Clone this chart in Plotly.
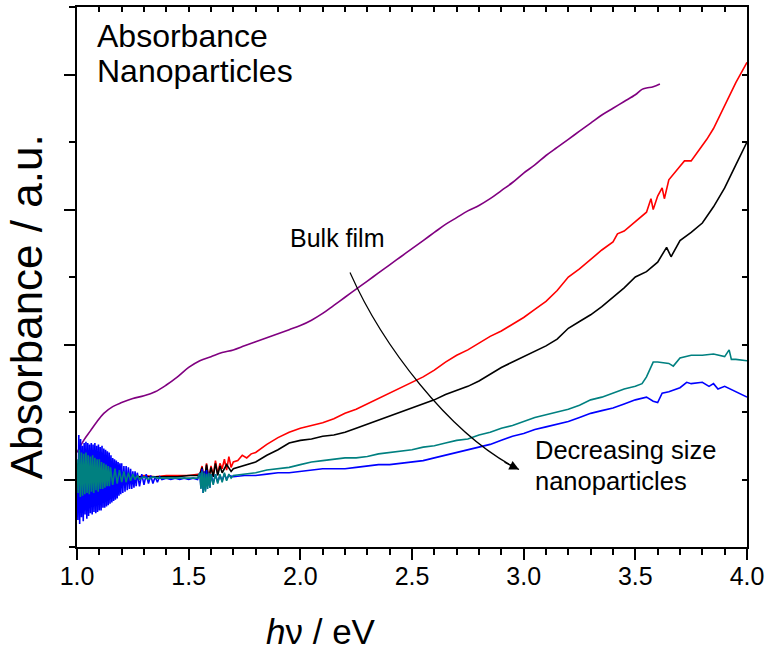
import plotly.graph_objects as go

# ---------------- data ----------------
X_TICKS = [1.0, 1.5, 2.0, 2.5, 3.0, 3.5, 4.0]
X_TICK_LABELS = ["1.0", "1.5", "2.0", "2.5", "3.0", "3.5", "4.0"]

BULK_FILM = [  # purple
    (1.00, 0.20), (1.03, 0.29), (1.06, 0.36), (1.09, 0.43), (1.12, 0.49), (1.16, 0.54),
    (1.20, 0.57), (1.25, 0.60), (1.30, 0.62), (1.35, 0.65), (1.40, 0.70), (1.45, 0.76),
    (1.50, 0.83), (1.55, 0.88), (1.60, 0.91), (1.65, 0.94), (1.70, 0.96), (1.75, 0.99),
    (1.80, 1.02), (1.85, 1.05), (1.90, 1.08), (1.95, 1.11), (2.00, 1.14), (2.05, 1.18),
    (2.10, 1.23), (2.15, 1.29), (2.20, 1.35), (2.25, 1.41), (2.30, 1.47), (2.35, 1.53),
    (2.40, 1.59), (2.45, 1.65), (2.50, 1.71), (2.55, 1.77), (2.60, 1.83), (2.65, 1.89),
    (2.70, 1.94), (2.75, 1.99), (2.80, 2.03), (2.85, 2.08), (2.90, 2.14), (2.95, 2.20),
    (3.00, 2.27), (3.05, 2.33), (3.10, 2.40), (3.15, 2.46), (3.20, 2.52), (3.25, 2.58),
    (3.30, 2.64), (3.35, 2.70), (3.40, 2.75), (3.45, 2.80), (3.50, 2.85), (3.53, 2.89),
    (3.55, 2.90), (3.58, 2.91), (3.61, 2.93),
]

SAMPLE_RED = [
    (1.00, 0.12), (1.005, -0.04), (1.01, 0.08), (1.015, -0.02), (1.02, 0.05), (1.03, 0.00),
    (1.04, 0.04), (1.05, -0.01), (1.06, 0.03), (1.08, 0.00), (1.10, 0.03), (1.12, 0.00),
    (1.14, 0.03), (1.16, 0.01), (1.18, 0.03), (1.20, 0.01), (1.22, 0.04), (1.24, 0.01),
    (1.26, 0.03), (1.28, 0.02), (1.30, 0.03), (1.35, 0.02), (1.40, 0.03), (1.45, 0.03),
    (1.50, 0.03), (1.55, 0.04), (1.56, 0.10), (1.57, -0.02), (1.58, 0.12), (1.59, 0.00),
    (1.60, 0.10), (1.61, 0.03), (1.62, 0.14), (1.63, 0.04), (1.64, 0.12), (1.65, 0.08),
    (1.66, 0.15), (1.67, 0.07), (1.68, 0.17), (1.69, 0.09), (1.70, 0.13), (1.72, 0.14),
    (1.74, 0.18), (1.76, 0.16), (1.78, 0.19), (1.80, 0.20), (1.85, 0.26), (1.90, 0.31),
    (1.95, 0.35), (2.00, 0.38), (2.05, 0.40), (2.10, 0.42), (2.15, 0.45), (2.20, 0.49),
    (2.25, 0.52), (2.30, 0.56), (2.35, 0.60), (2.40, 0.64), (2.45, 0.68), (2.50, 0.72),
    (2.55, 0.76), (2.60, 0.81), (2.65, 0.87), (2.70, 0.92), (2.75, 0.96), (2.80, 1.01),
    (2.85, 1.06), (2.90, 1.10), (2.95, 1.15), (3.00, 1.20), (3.05, 1.26), (3.10, 1.32),
    (3.15, 1.40), (3.20, 1.50), (3.25, 1.56), (3.30, 1.63), (3.35, 1.70), (3.40, 1.76),
    (3.42, 1.82), (3.45, 1.84), (3.50, 1.91), (3.55, 1.98), (3.57, 2.08), (3.58, 2.00),
    (3.60, 2.10), (3.62, 2.16), (3.63, 2.08), (3.65, 2.22), (3.70, 2.32), (3.72, 2.36),
    (3.75, 2.36), (3.80, 2.47), (3.82, 2.52), (3.85, 2.60), (3.90, 2.77), (3.95, 2.94),
    (4.00, 3.09),
]

SAMPLE_BLACK = [
    (1.00, 0.08), (1.005, -0.05), (1.01, 0.06), (1.015, -0.03), (1.02, 0.04), (1.03, 0.00),
    (1.04, 0.03), (1.06, 0.00), (1.08, 0.02), (1.10, 0.01), (1.12, 0.03), (1.14, 0.00),
    (1.16, 0.02), (1.18, 0.01), (1.20, 0.03), (1.22, 0.01), (1.24, 0.03), (1.26, 0.02),
    (1.28, 0.02), (1.30, 0.02), (1.35, 0.02), (1.40, 0.02), (1.45, 0.02), (1.50, 0.03),
    (1.55, 0.03), (1.56, 0.09), (1.57, -0.01), (1.58, 0.11), (1.59, 0.01), (1.60, 0.09),
    (1.61, 0.02), (1.62, 0.12), (1.63, 0.03), (1.64, 0.10), (1.65, 0.05), (1.67, 0.11),
    (1.69, 0.06), (1.70, 0.08), (1.72, 0.09), (1.75, 0.10), (1.80, 0.13), (1.85, 0.18),
    (1.90, 0.22), (1.95, 0.27), (2.00, 0.29), (2.05, 0.30), (2.10, 0.32), (2.15, 0.33),
    (2.20, 0.35), (2.25, 0.38), (2.30, 0.41), (2.35, 0.44), (2.40, 0.47), (2.45, 0.50),
    (2.50, 0.53), (2.55, 0.56), (2.60, 0.59), (2.65, 0.63), (2.70, 0.66), (2.75, 0.69),
    (2.80, 0.73), (2.85, 0.78), (2.90, 0.83), (2.95, 0.87), (3.00, 0.91), (3.05, 0.95),
    (3.10, 0.99), (3.15, 1.04), (3.20, 1.12), (3.25, 1.17), (3.30, 1.22), (3.35, 1.28),
    (3.40, 1.35), (3.45, 1.42), (3.50, 1.50), (3.55, 1.54), (3.60, 1.61), (3.64, 1.72),
    (3.66, 1.65), (3.70, 1.77), (3.75, 1.83), (3.80, 1.90), (3.85, 2.02), (3.90, 2.16),
    (3.95, 2.33), (4.00, 2.50),
]

SAMPLE_BLUE = [
    (1.000, 0.05), (1.004, -0.30), (1.008, 0.33), (1.012, -0.33), (1.016, 0.30), (1.020, -0.28),
    (1.024, 0.25), (1.028, -0.31), (1.032, 0.27), (1.036, -0.26), (1.040, 0.28), (1.044, -0.29),
    (1.048, 0.27), (1.052, -0.27), (1.056, 0.26), (1.060, -0.25), (1.064, 0.27), (1.068, -0.26),
    (1.072, 0.26), (1.076, -0.24), (1.080, 0.27), (1.084, -0.25), (1.088, 0.25), (1.092, -0.24),
    (1.096, 0.26), (1.100, -0.23), (1.104, 0.24), (1.108, -0.23), (1.112, 0.25), (1.116, -0.21),
    (1.120, 0.23), (1.124, -0.21), (1.128, 0.22), (1.132, -0.20), (1.136, 0.21), (1.140, -0.19),
    (1.144, 0.20), (1.148, -0.18), (1.152, 0.18), (1.156, -0.17), (1.160, 0.16), (1.164, -0.16),
    (1.168, 0.15), (1.172, -0.15), (1.176, 0.14), (1.180, -0.14), (1.184, 0.13), (1.188, -0.12),
    (1.192, 0.12), (1.196, -0.11), (1.200, 0.12), (1.205, -0.10), (1.210, 0.10), (1.215, -0.09),
    (1.220, 0.10), (1.225, -0.08), (1.230, 0.09), (1.235, -0.07), (1.240, 0.08), (1.245, -0.07),
    (1.250, 0.06), (1.255, -0.06), (1.260, 0.06), (1.265, -0.05), (1.270, 0.05), (1.280, -0.05),
    (1.290, 0.04), (1.300, -0.04), (1.310, 0.04), (1.320, -0.03), (1.330, 0.03), (1.340, -0.03),
    (1.350, 0.02), (1.360, -0.02), (1.370, 0.02), (1.380, 0.00), (1.400, 0.01), (1.420, 0.00),
    (1.440, 0.01), (1.460, 0.00), (1.480, 0.01), (1.500, 0.00), (1.520, 0.01), (1.540, 0.00),
    (1.550, 0.05), (1.555, -0.06), (1.560, 0.08), (1.565, -0.10), (1.570, 0.06), (1.575, -0.08),
    (1.580, 0.07), (1.585, -0.05), (1.590, 0.05), (1.595, -0.06), (1.600, 0.04), (1.610, -0.03),
    (1.620, 0.04), (1.630, -0.02), (1.640, 0.03), (1.650, -0.01), (1.660, 0.04), (1.670, 0.00),
    (1.680, 0.03), (1.70, 0.02), (1.75, 0.03),
    (1.80, 0.03), (1.85, 0.04), (1.90, 0.05), (1.95, 0.05), (2.00, 0.06), (2.05, 0.07),
    (2.10, 0.08), (2.15, 0.08), (2.20, 0.08), (2.25, 0.09), (2.30, 0.10), (2.35, 0.11),
    (2.40, 0.11), (2.45, 0.12), (2.50, 0.13), (2.55, 0.14), (2.60, 0.16), (2.65, 0.18),
    (2.70, 0.20), (2.75, 0.22), (2.80, 0.24), (2.85, 0.26), (2.90, 0.29), (2.95, 0.32),
    (3.00, 0.34), (3.05, 0.37), (3.10, 0.39), (3.15, 0.41), (3.20, 0.43), (3.25, 0.46),
    (3.30, 0.49), (3.35, 0.51), (3.40, 0.53), (3.45, 0.56), (3.50, 0.59), (3.55, 0.61),
    (3.58, 0.58), (3.60, 0.57), (3.62, 0.64), (3.65, 0.65), (3.70, 0.68), (3.73, 0.72),
    (3.75, 0.71), (3.80, 0.72), (3.83, 0.69), (3.85, 0.71), (3.87, 0.67), (3.90, 0.69),
    (3.95, 0.65), (4.00, 0.61),
]

SAMPLE_TEAL = [
    (1.000, 0.15), (1.005, -0.10), (1.010, 0.22), (1.015, -0.13), (1.020, 0.20), (1.025, -0.12),
    (1.030, 0.19), (1.035, -0.11), (1.040, 0.20), (1.045, -0.10), (1.050, 0.18), (1.055, -0.11),
    (1.060, 0.17), (1.065, -0.09), (1.070, 0.18), (1.075, -0.10), (1.080, 0.16), (1.085, -0.08),
    (1.090, 0.15), (1.095, -0.09), (1.100, 0.15), (1.105, -0.07), (1.110, 0.13), (1.115, -0.07),
    (1.120, 0.12), (1.125, -0.06), (1.130, 0.11), (1.135, -0.05), (1.140, 0.10), (1.145, -0.05),
    (1.150, 0.09), (1.160, -0.04), (1.170, 0.08), (1.180, -0.03), (1.190, 0.07), (1.200, -0.02),
    (1.210, 0.06), (1.220, -0.02), (1.230, 0.05), (1.240, -0.01), (1.250, 0.04), (1.260, 0.00),
    (1.270, 0.03), (1.280, 0.00), (1.300, 0.02), (1.320, 0.00), (1.340, 0.02), (1.360, 0.01),
    (1.400, 0.01), (1.450, 0.01), (1.500, 0.01), (1.540, 0.01), (1.550, 0.05), (1.555, -0.07),
    (1.560, 0.06), (1.565, -0.10), (1.570, 0.05), (1.575, -0.09), (1.580, 0.04), (1.585, -0.07),
    (1.590, 0.05), (1.595, -0.06), (1.600, 0.04), (1.610, -0.04), (1.620, 0.04), (1.630, -0.03),
    (1.640, 0.04), (1.650, -0.02), (1.660, 0.05), (1.670, -0.01), (1.680, 0.04), (1.690, 0.01),
    (1.70, 0.03), (1.75, 0.04), (1.80, 0.05), (1.85, 0.07),
    (1.90, 0.08), (1.95, 0.09), (2.00, 0.11), (2.05, 0.13), (2.10, 0.14), (2.15, 0.15),
    (2.20, 0.16), (2.25, 0.16), (2.30, 0.17), (2.35, 0.19), (2.40, 0.20), (2.45, 0.21),
    (2.50, 0.22), (2.55, 0.24), (2.60, 0.25), (2.65, 0.27), (2.70, 0.29), (2.75, 0.30),
    (2.80, 0.33), (2.85, 0.35), (2.90, 0.38), (2.95, 0.40), (3.00, 0.43), (3.05, 0.46),
    (3.10, 0.48), (3.15, 0.50), (3.20, 0.52), (3.25, 0.55), (3.30, 0.59), (3.35, 0.61),
    (3.40, 0.64), (3.45, 0.67), (3.50, 0.69), (3.53, 0.71), (3.55, 0.76), (3.58, 0.87),
    (3.60, 0.87), (3.65, 0.86), (3.67, 0.84), (3.70, 0.90), (3.75, 0.92), (3.80, 0.92),
    (3.85, 0.93), (3.88, 0.92), (3.90, 0.91), (3.92, 0.96), (3.93, 0.89), (3.95, 0.89),
    (4.00, 0.88),
]

SERIES = [
    ("Bulk film", BULK_FILM, "#800080", "spline"),
    ("Sample 1", SAMPLE_RED, "#ff0000", "linear"),
    ("Sample 2", SAMPLE_BLACK, "#000000", "linear"),
    ("Sample 3", SAMPLE_BLUE, "#0000ff", "linear"),
    ("Sample 4", SAMPLE_TEAL, "#008080", "linear"),
]

# ---------------- figure ----------------
FONT = "Liberation Sans, Arial, sans-serif"

fig = go.Figure()
for name, pts, color, shape in SERIES:
    xs = [p[0] for p in pts]
    ys = [p[1] for p in pts]
    fig.add_trace(go.Scatter(x=xs, y=ys, mode="lines", name=name,
                             line=dict(color=color, width=1.6, shape=shape),
                             showlegend=False, hoverinfo="skip"))

# dummy trace to activate the mirrored (top/right) axes
fig.add_trace(go.Scatter(x=[None], y=[None], xaxis="x2", yaxis="y2",
                         showlegend=False, hoverinfo="skip"))

fig.update_layout(
    width=769, height=652,
    margin=dict(l=77, r=22, t=7, b=105, autoexpand=False),
    paper_bgcolor="white", plot_bgcolor="white",
    font=dict(family=FONT, color="black"),
    xaxis=dict(range=[1.0, 4.0], tickvals=X_TICKS, ticktext=X_TICK_LABELS,
               automargin=False, ticklabelstandoff=-5,
               ticks="outside", ticklen=11, tickwidth=2, tickcolor="black",
               showline=True, linewidth=2, linecolor="black",
               showgrid=False, zeroline=False,
               tickfont=dict(family=FONT, size=25, color="black"),
               minor=dict(dtick=0.1, tick0=1.0, ticks="outside", ticklen=6,
                          tickwidth=1.5, tickcolor="black", showgrid=False)),
    yaxis=dict(range=[-0.5, 3.5], tick0=0, dtick=1, automargin=False,
               ticks="outside", ticklen=11, tickwidth=2, tickcolor="black",
               showline=True, linewidth=2, linecolor="black",
               showgrid=False, zeroline=False, showticklabels=False,
               minor=dict(dtick=0.5, tick0=0, ticks="outside", ticklen=6,
                          tickwidth=1.5, tickcolor="black", showgrid=False)),
    xaxis2=dict(range=[1.0, 4.0], overlaying="x", side="top", anchor="y2",
                automargin=False,
                tick0=1.0, dtick=0.1, ticks="inside", ticklen=5, tickwidth=1.5,
                tickcolor="black", showline=True, linewidth=2, linecolor="black",
                showgrid=False, zeroline=False, showticklabels=False),
    yaxis2=dict(range=[-0.5, 3.5], overlaying="y", side="right", anchor="x2",
                automargin=False,
                tick0=0, dtick=0.5, ticks="inside", ticklen=5, tickwidth=1.5,
                tickcolor="black", showline=True, linewidth=2, linecolor="black",
                showgrid=False, zeroline=False, showticklabels=False),
    showlegend=False,
)

# curved arrow (Bulk film -> Decreasing size nanoparticles)
fig.add_shape(type="path", xref="x", yref="y",
              path="M 2.2224 1.5333 C 2.3639 1.0067, 2.6644 0.334, 2.9791 0.074",
              line=dict(color="black", width=1.2))
fig.add_annotation(x=2.9791, y=0.074, xref="x", yref="y", text="",
                   showarrow=True, ax=-16, ay=-8, axref="pixel", ayref="pixel",
                   arrowhead=2, arrowsize=1.6, arrowwidth=1.2, arrowcolor="black",
                   standoff=0)

def note(text, x, y, size, **kw):
    fig.add_annotation(text=text, x=x, y=y, xref="paper", yref="paper",
                       showarrow=False, font=dict(family=FONT, size=size, color="black"),
                       **kw)

note("Absorbance", 0.0269, 0.946, 32, xanchor="left", yanchor="middle")
note("Nanoparticles", 0.0269, 0.8806, 32, xanchor="left", yanchor="middle")
note("Bulk film", 0.3149, 0.5722, 25, xanchor="left", yanchor="middle")
note("Decreasing size", 0.6806, 0.179, 25.5, xanchor="left", yanchor="middle")
note("nanoparticles", 0.6806, 0.122, 25.5, xanchor="left", yanchor="middle")
note("Absorbance / a.u.", -0.0761, 0.444, 44, xanchor="center", yanchor="middle",
     textangle=-90)
note("<i>h</i>ν / eV", 0.364, -0.157, 35, xanchor="center", yanchor="middle")

fig.write_html("out.html", config={"displayModeBar": False},
               post_script="document.body.style.margin='0';")
